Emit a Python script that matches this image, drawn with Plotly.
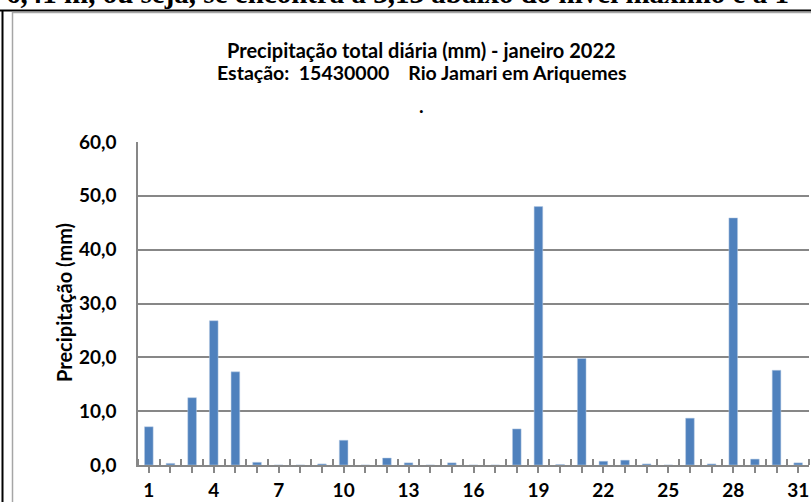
import plotly.graph_objects as go

# ---- data ----
days = list(range(1, 32))
precip_mm = [7.1, 0.3, 12.5, 26.8, 17.3, 0.5, 0.0, 0.0, 0.2, 4.6,
             0.0, 1.3, 0.4, 0.0, 0.4, 0.0, 0.0, 6.7, 48.0, 0.1,
             19.8, 0.7, 0.9, 0.2, 0.0, 8.7, 0.2, 45.9, 1.1, 17.6, 0.4]
x_tick_labels = [str(d) if (d - 1) % 3 == 0 else "" for d in days]
y_ticks = [0, 10, 20, 30, 40, 50, 60]

title_line1 = "Precipitação total diária (mm) - janeiro 2022"
title_line2 = "Estação:\u00a0 15430000\u00a0\u00a0\u00a0 Rio Jamari em Ariquemes"
y_title = "Precipitação (mm)"
doc_text = "6,41 m, ou seja, se encontra a 3,13 abaixo do nível máximo e a 1"

# ---- layout geometry ----
W, H = 811, 502
L, R, T, B = 138, 2, 142, 37
pw, ph = W - L - R, H - T - B


def px_x(x):
    return (x - L) / pw


def px_y(y):
    return (H - B - y) / ph


GRID = "#878787"
BORDER = "#a6a6a6"
FONT = "Lato"

fig = go.Figure()
fig.add_trace(go.Bar(
    x=days, y=precip_mm,
    marker=dict(color="#4F81BD", line=dict(color="#b9cde5", width=0.5)),
    width=0.4,
    hoverinfo="x+y",
))

fig.update_layout(
    width=W, height=H,
    margin=dict(l=L, r=R, t=T, b=B, pad=0, autoexpand=False),
    paper_bgcolor="white", plot_bgcolor="white",
    separators=",.",
    showlegend=False,
    font=dict(family=FONT, color="black"),
    xaxis=dict(
        range=[0.5, 31.5], automargin=False,
        tickmode="array", tickvals=days, ticktext=x_tick_labels,
        ticks="outside", ticklen=6, tickwidth=1.5, tickcolor=GRID,
        showline=True, linecolor=GRID, linewidth=1.5,
        showgrid=False, zeroline=False,
        tickfont=dict(family=FONT, size=19, color="black", weight="bold"),
        ticklabelstandoff=1,
        minor=dict(tickmode="array", tickvals=[d + 0.5 for d in range(0, 32)],
                   ticks="inside", ticklen=6, tickwidth=1.5, tickcolor=GRID),
    ),
    yaxis=dict(
        range=[0, 60], automargin=False,
        tickmode="array", tickvals=y_ticks, tickformat=".1f",
        ticks="", showline=True, linecolor=GRID, linewidth=1.5,
        showgrid=True, gridcolor=GRID, gridwidth=1.5, zeroline=False,
        tickfont=dict(family=FONT, size=19, color="black", weight="bold"),
        ticklabelstandoff=16,
    ),
)

shapes = [
    # document table borders (black)
    dict(type="line", xref="paper", yref="paper",
         x0=px_x(0), x1=px_x(W), y0=px_y(10.5), y1=px_y(10.5),
         line=dict(color="black", width=2)),
    dict(type="line", xref="paper", yref="paper",
         x0=px_x(2.5), x1=px_x(2.5), y0=px_y(10), y1=px_y(H),
         line=dict(color="black", width=2)),
    # chart area border (gray)
    dict(type="line", xref="paper", yref="paper",
         x0=px_x(12), x1=px_x(W), y0=px_y(12.5), y1=px_y(12.5),
         line=dict(color=BORDER, width=1.5)),
    dict(type="line", xref="paper", yref="paper",
         x0=px_x(12.5), x1=px_x(12.5), y0=px_y(12), y1=px_y(H),
         line=dict(color=BORDER, width=1.5)),
]
fig.update_layout(shapes=shapes)

annotations = [
    dict(text=doc_text, xref="paper", yref="paper", x=px_x(4), y=px_y(11.5),
         xanchor="left", yanchor="bottom", showarrow=False,
         font=dict(family="Liberation Serif", size=29, color="black", weight="bold")),
    dict(text=title_line1, xref="paper", yref="paper", x=px_x(421), y=px_y(50),
         xanchor="center", yanchor="middle", showarrow=False,
         font=dict(family=FONT, size=20, color="black", weight="bold")),
    dict(text=title_line2, xref="paper", yref="paper", x=px_x(421), y=px_y(73),
         xanchor="center", yanchor="middle", showarrow=False,
         font=dict(family=FONT, size=19.5, color="black", weight="bold")),
    dict(text=".", xref="paper", yref="paper", x=px_x(421), y=px_y(105),
         xanchor="center", yanchor="middle", showarrow=False,
         font=dict(family=FONT, size=19.5, color="black", weight="bold")),
    dict(text=y_title, xref="paper", yref="paper", x=px_x(64), y=px_y(303),
         xanchor="center", yanchor="middle", showarrow=False, textangle=-90,
         font=dict(family=FONT, size=20, color="black", weight="bold")),
]
fig.update_layout(annotations=annotations)

fig.write_html("out.html",
               config={"displayModeBar": False},
               post_script="document.body.style.margin='0';"
                           "document.body.style.overflow='hidden';")
